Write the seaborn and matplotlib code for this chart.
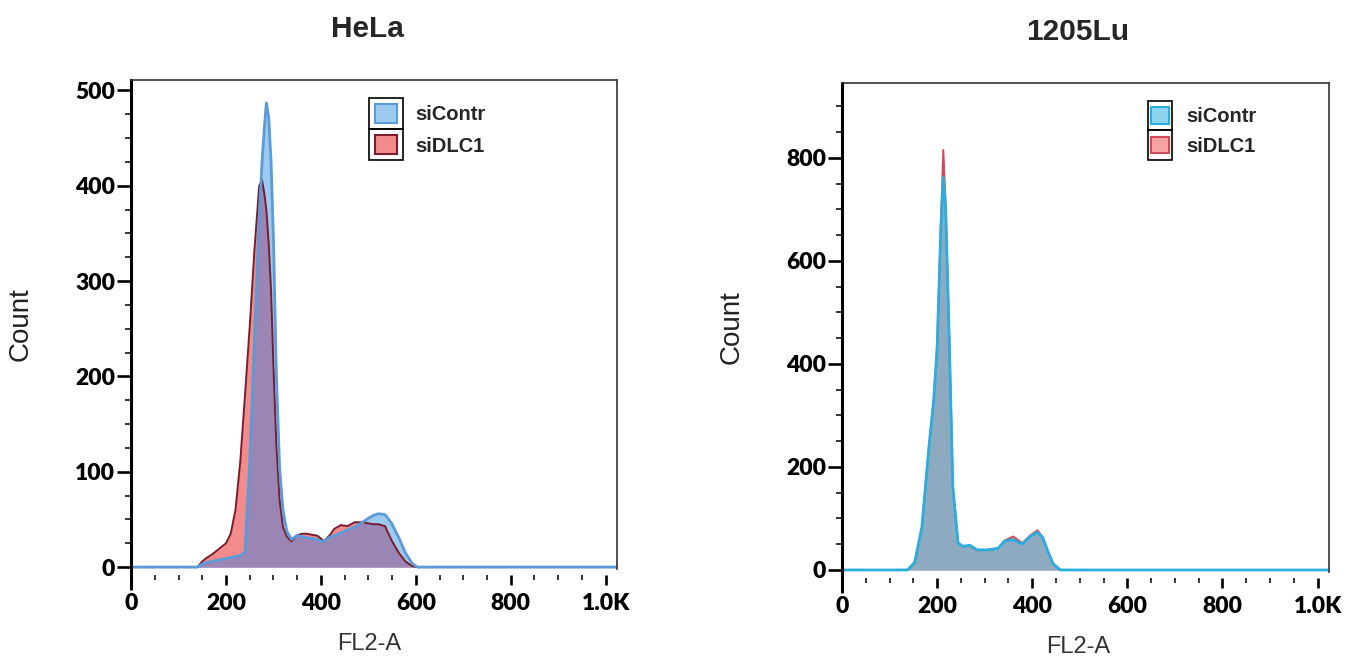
import numpy as np
import matplotlib
matplotlib.use('Agg')
import matplotlib.pyplot as plt
import seaborn as sns
from matplotlib.patches import Patch, Rectangle
from matplotlib.lines import Line2D
from matplotlib.ticker import MultipleLocator, FixedLocator, FixedFormatter

# FL2-A channel grid and counts
hela_x = [0, 130, 140, 150, 160, 170, 180, 190, 200, 210, 220, 230, 240, 250, 260,
          270, 276, 281, 285, 290, 295, 300, 306, 313, 320, 328, 338, 349, 360, 370,
          380, 392, 400, 406, 418, 428, 442, 456, 471, 485, 499, 510, 521, 535, 549,
          564, 578, 592, 603, 620, 1024]
hela_sicontr = [0, 0, 0, 3, 5, 6, 7, 8, 9, 10, 11, 12, 16, 110, 240,
                365, 425, 462, 487, 472, 425, 345, 205, 104, 60, 38, 29, 33, 32, 31,
                30, 29, 27, 27, 31, 33, 36, 39, 42, 46, 51, 54, 56, 55, 46,
                31, 15, 4, 0, 0, 0]
hela_sidlc1 = [0, 0, 0, 6, 10, 13, 17, 21, 25, 35, 60, 110, 180, 252, 333,
               400, 406, 391, 375, 340, 290, 210, 130, 70, 42, 32, 27, 33, 35, 35,
               34, 33, 30, 27, 33, 40, 44, 43, 47, 47, 46, 45, 45, 43, 28,
               15, 6, 1, 0, 0, 0]

lu_x = [0, 130, 138, 153, 168, 182, 193, 200, 208, 213, 218, 226, 233, 244, 255,
        269, 284, 306, 328, 342, 360, 379, 397, 411, 422, 433, 444, 459, 480, 1024]
lu_sicontr = [0, 0, 0, 15, 83, 231, 331, 432, 668, 762, 701, 432, 163, 52, 46,
              48, 39, 39, 42, 56, 59, 50, 66, 73, 63, 36, 12, 0, 0, 0]
lu_sidlc1 = [0, 0, 0, 15, 83, 231, 331, 432, 672, 815, 705, 432, 163, 52, 46,
             47, 38, 39, 42, 57, 65, 52, 68, 77, 64, 36, 12, 0, 0, 0]

x_ticks = [0, 200, 400, 600, 800, 1000]
x_tick_labels = ['0', '200', '400', '600', '800', '1.0K']
hela_yticks = [0, 100, 200, 300, 400, 500]
lu_yticks = [0, 200, 400, 600, 800]
series_names = ['siContr', 'siDLC1']

sns.set_theme(style='white')
plt.rcParams['font.family'] = ['Liberation Sans', 'DejaVu Sans']

fig = plt.figure(figsize=(13.47, 6.61), dpi=100)
ax1 = fig.add_axes([0.0973, 0.1392, 0.3608, 0.7398])
ax2 = fig.add_axes([0.6251, 0.1346, 0.3615, 0.7398])

hela_colors = dict(red_fill='#f28c8c', red_line='#7a1c2c', blue_fill='#9dcbef',
                   blue_line='#5b9bd8', both='#9a85b4')
lu_colors = dict(red_fill='#f5a3a3', red_line='#d04a5a', blue_fill='#8ed4ee',
                 blue_line='#2aaee0', both='#8eaac0')


def draw_panel(ax, x, ctrl, dlc, c, ylim, yticks, yminor, title, title_x, leg_anchor, hsize):
    x = np.array(x)
    ctrl = np.array(ctrl)
    dlc = np.array(dlc)
    ax.fill_between(x, dlc, color=c['red_fill'], lw=0)
    ax.fill_between(x, ctrl, color=c['blue_fill'], lw=0)
    ax.fill_between(x, np.minimum(ctrl, dlc), color=c['both'], lw=0)
    sns.lineplot(x=x, y=dlc, ax=ax, color=c['red_line'], lw=1.4, estimator=None, sort=False)
    sns.lineplot(x=x, y=ctrl, ax=ax, color=c['blue_line'], lw=2.0, estimator=None, sort=False)

    ax.set_xlim(0, 1024)
    ax.set_ylim(*ylim)

    # frame: thick left axis, thin box, x axis pushed down a little
    for s in ['top', 'right']:
        ax.spines[s].set_color('#333333')
        ax.spines[s].set_linewidth(1.2)
    ax.spines['left'].set_color('black')
    ax.spines['left'].set_linewidth(2.2)
    ax.spines['bottom'].set_position(('outward', 4))
    ax.spines['bottom'].set_visible(False)
    ax.add_line(Line2D([0, 0], [-0.042, 0], transform=ax.transAxes, color='black',
                       lw=2.2, clip_on=False, solid_capstyle='butt'))

    ax.xaxis.set_major_locator(FixedLocator(x_ticks))
    ax.xaxis.set_major_formatter(FixedFormatter(x_tick_labels))
    ax.xaxis.set_minor_locator(MultipleLocator(50))
    ax.yaxis.set_major_locator(FixedLocator(yticks))
    ax.yaxis.set_minor_locator(MultipleLocator(yminor))
    ax.tick_params(axis='x', which='major', bottom=True, length=7.5, width=1.9,
                   color='black', pad=5.5)
    ax.tick_params(axis='x', which='minor', bottom=True, length=3.8, width=1.1, color='black')
    ax.tick_params(axis='y', which='major', left=True, length=10, width=1.9,
                   color='black', pad=1.5)
    ax.tick_params(axis='y', which='minor', left=True, length=4.3, width=1.1, color='black')
    for lab in ax.get_xticklabels() + ax.get_yticklabels():
        lab.set_fontfamily(['Lato', 'DejaVu Sans'])
        lab.set_fontweight('heavy')
        lab.set_fontsize(16.5)
        lab.set_color('black')

    ax.set_ylabel('Count', fontsize=20, color='#222222')
    ax.yaxis.set_label_coords(-0.2, 0.5)
    ax.set_xlabel('FL2-A', fontsize=17, color='#333333')
    ax.xaxis.set_label_coords(title_x + 0.003, -0.131)
    ax.set_title(title, fontsize=21.5, fontweight='bold', x=title_x, y=1.088, pad=0)

    handles = [Patch(facecolor=c['blue_fill'], edgecolor=c['blue_line'], lw=1.5),
               Patch(facecolor=c['red_fill'], edgecolor=c['red_line'], lw=1.5)]
    leg = ax.legend(handles, series_names, loc='upper left', bbox_to_anchor=leg_anchor,
                    frameon=False, borderpad=0.3, handlelength=hsize[0], handleheight=hsize[1],
                    labelspacing=hsize[2], handletextpad=0.9, borderaxespad=0,
                    prop={'weight': 'bold', 'size': 14.5})
    return leg


leg1 = draw_panel(ax1, hela_x, hela_sicontr, hela_sidlc1, hela_colors, (-2, 511),
                  hela_yticks, 25, 'HeLa', 0.486, (0.49, 0.963), (1.1, 1.05, 0.55))
leg2 = draw_panel(ax2, lu_x, lu_sicontr, lu_sidlc1, lu_colors, (-4, 945),
                  lu_yticks, 50, '1205Lu', 0.483, (0.623, 0.963), (0.85, 0.9, 0.5))

# box each legend swatch separately, as in the flow-cytometry software
fig.canvas.draw()
inv = fig.transFigure.inverted()
for leg, padx in [(leg1, 6), (leg2, 3)]:
    bbs = [h.get_window_extent() for h in leg.legend_handles]
    step = bbs[0].y0 - bbs[1].y0
    for bb in bbs:
        cy = (bb.y0 + bb.y1) / 2
        (x0, y0) = inv.transform((bb.x0 - padx, cy - step / 2))
        (x1, y1) = inv.transform((bb.x1 + padx, cy + step / 2))
        fig.patches.append(Rectangle((x0, y0), x1 - x0, y1 - y0, transform=fig.transFigure,
                                     fill=False, edgecolor='black', lw=1.2, figure=fig))

fig.savefig('out.png', dpi=100)
